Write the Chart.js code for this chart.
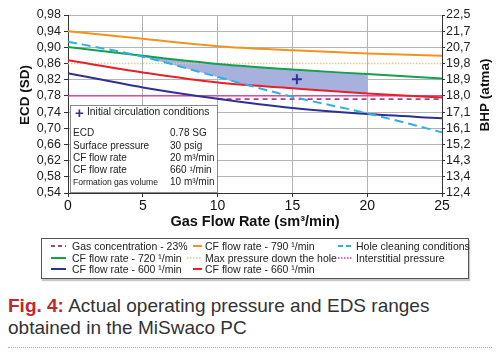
<!DOCTYPE html>
<html><head><meta charset="utf-8">
<script src="https://cdn.jsdelivr.net/npm/chart.js@4.4.1/dist/chart.umd.min.js"></script>
<style>
html,body{margin:0;padding:0;background:#fff;width:500px;height:356px;overflow:hidden;font-family:'Liberation Sans',Arial,sans-serif;}
#wrap{position:absolute;left:0;top:0;width:500px;height:234px;}
#info{position:absolute;left:70px;top:105px;width:146px;height:86px;background:#fff;border:1px solid #8a8a8a;font-size:10px;color:#222;}
#info div{position:absolute;line-height:12px;white-space:nowrap;}
#legend{position:absolute;left:41px;top:238px;width:426px;height:39px;border:1px solid #555;box-shadow:1px 2px 1px #c8c8c8;background:#fff;}
.li{position:absolute;font-size:10.5px;line-height:12px;color:#222;white-space:nowrap;}
#cap{position:absolute;left:8px;top:295px;font-size:19px;line-height:22px;color:#333;white-space:nowrap;}
#cap b{color:#c1272d;}
#rule{position:absolute;left:8px;top:347px;width:484px;border-top:1px dotted #e09a9a;}
</style></head><body>
<div id="wrap"><canvas id="c" width="500" height="234"></canvas></div>
<div id="info"></div>
<div id="legend"></div>
<div id="cap"><b>Fig. 4:</b> Actual operating pressure and EDS ranges<br>obtained in the MiSwaco PC</div>
<div id="rule"></div>
<script>
// ---- data ----
const gasFlow = [0, 5, 10, 15, 20, 25];
const cf790 = [0.940, 0.921, 0.903, 0.893, 0.885, 0.879];
const cf720 = [0.901, 0.879, 0.859, 0.845, 0.834, 0.823];
const cf660 = [0.868, 0.838, 0.813, 0.799, 0.786, 0.776];
const cf600 = [0.836, 0.801, 0.773, 0.750, 0.735, 0.725];
const holeCleaning = [0.914, 0.877, 0.827, 0.778, 0.737, 0.690];
const gasConcX = [10, 25];
const gasConc = [0.772, 0.772];
const interstitialX = [0, 25];
const interstitial = [0.78, 0.78];
const maxPressureX = [0, 25];
const maxPressure = [0.86, 0.86];
const shadeX = [4.6, 5, 7.5, 10, 11.8, 15, 17.5, 20];
const shadeTop = [0.881, 0.879, 0.869, 0.859, 0.855, 0.845, 0.839, 0.834];
const shadeBottom = [0.881, 0.877, 0.852, 0.827, 0.808, 0.799, 0.792, 0.786];
const initialPoint = [15.3, 0.821];
const ecdTicks = [0.54, 0.58, 0.62, 0.66, 0.70, 0.74, 0.78, 0.82, 0.86, 0.90, 0.94, 0.98];
const bhpLabels = ['12,4', '13,4', '14,3', '15,2', '16,1', '17,1', '18,0', '18,9', '19,8', '20,7', '21,7', '22,5'];
const xTicks = [0, 5, 10, 15, 20, 25];
const infoRows = [
  ['ECD', '0.78 SG'],
  ['Surface pressure', '30 psig'],
  ['CF flow rate', '20 m³/min'],
  ['CF flow rate', '660 ¹/min'],
  ['Formation gas volume', '10 m³/min']
];
const legendLabels = [
  'Gas concentration - 23%', 'CF flow rate - 790 ¹/min', 'Hole cleaning conditions',
  'CF flow rate - 720 ¹/min', 'Max pressure down the hole', 'Interstitial pressure',
  'CF flow rate - 600 ¹/min', 'CF flow rate - 660 ¹/min'
];

// ---- styles ----
const C = {
  orange: '#f5921e', green: '#14a04c', red: '#e8202a', navy: '#2e3192',
  cyan: '#2fb0e2', magenta: '#e0309a', purple: '#9b4a86', beige: '#e6c49a', shade: '#a8b0de'
};
const legendStyles = [
  {c: C.purple, d: '4,3', w: 1.8}, {c: C.orange, d: '', w: 2}, {c: C.cyan, d: '5,3', w: 2},
  {c: C.green, d: '', w: 2}, {c: C.beige, d: '1.5,1.5', w: 1.5}, {c: C.magenta, d: '1.5,1.5', w: 1.5},
  {c: C.navy, d: '', w: 2}, {c: C.red, d: '', w: 2}
];
const fam = "'Liberation Sans', Arial, sans-serif";
const pts = (xs, ys) => xs.map((x, i) => ({x: x, y: ys[i]}));
const lineDs = (label, xs, ys, color, extra) => Object.assign({
  label: label, data: pts(xs, ys), borderColor: color, borderWidth: 2, pointRadius: 0,
  fill: false, cubicInterpolationMode: 'monotone', order: 1
}, extra || {});

const vTitles = {
  id: 'vTitles',
  afterDraw(chart) {
    const ctx = chart.ctx;
    [['ECD (SD)', 25], ['BHP (atma)', 485]].forEach(([txt, x]) => {
      ctx.save();
      ctx.font = "bold 13.5px " + fam;
      ctx.fillStyle = '#111';
      ctx.textAlign = 'center';
      ctx.textBaseline = 'middle';
      ctx.translate(x, 95); ctx.rotate(-Math.PI / 2); ctx.fillText(txt, 0, 0);
      ctx.restore();
    });
  }
};

const gridCol = (ctx) => (ctx.tick && Math.abs(ctx.tick.value - 0.86) < 1e-6) ? 'rgba(0,0,0,0)' : '#b4b4b4';

new Chart(document.getElementById('c'), {
  type: 'line',
  data: {
    datasets: [
      {label: 'shadeTop', data: pts(shadeX, shadeTop), borderWidth: 0, borderColor: 'rgba(0,0,0,0)',
       backgroundColor: C.shade, fill: '+1', pointRadius: 0, order: 10, cubicInterpolationMode: 'monotone'},
      {label: 'shadeBottom', data: pts(shadeX, shadeBottom), borderWidth: 0, borderColor: 'rgba(0,0,0,0)',
       fill: false, pointRadius: 0, order: 11, cubicInterpolationMode: 'monotone'},
      lineDs('Max pressure down the hole', maxPressureX, maxPressure, C.beige, {borderWidth: 1.5, borderDash: [1.5, 1.5], order: 5}),
      lineDs('Interstitial pressure', interstitialX, interstitial, C.magenta, {borderWidth: 1.4, order: 4}),
      lineDs('Gas concentration - 23%', gasConcX, gasConc, C.purple, {borderWidth: 1.8, borderDash: [5, 4], order: 3}),
      lineDs('CF flow rate - 790 ¹/min', gasFlow, cf790, C.orange),
      lineDs('CF flow rate - 720 ¹/min', gasFlow, cf720, C.green),
      lineDs('CF flow rate - 660 ¹/min', gasFlow, cf660, C.red),
      lineDs('CF flow rate - 600 ¹/min', gasFlow, cf600, C.navy),
      lineDs('Hole cleaning conditions', gasFlow, holeCleaning, C.cyan, {borderDash: [9, 5], order: 0}),
      {label: 'Initial circulation conditions', data: [{x: initialPoint[0], y: initialPoint[1]}], showLine: false,
       pointStyle: 'cross', pointRadius: 5, borderColor: C.navy, borderWidth: 2, order: 0}
    ]
  },
  options: {
    responsive: false, animation: false, devicePixelRatio: 1,
    layout: {padding: {top: 15, left: 0, right: 0, bottom: 0}},
    plugins: {legend: {display: false}, tooltip: {enabled: false}},
    scales: {
      x: {
        type: 'linear', min: 0, max: 25,
        afterBuildTicks: s => { s.ticks = xTicks.map(v => ({value: v})); },
        afterFit: s => { s.height = 41; },
        ticks: {font: {family: fam, size: 14}, color: '#111', padding: 1, maxRotation: 0, autoSkip: false},
        grid: {color: '#b4b4b4', tickColor: '#333', tickLength: 4},
        border: {color: '#333'},
        title: {display: true, text: 'Gas Flow Rate (sm³/min)', color: '#111',
                font: {family: fam, weight: 'bold', size: 14.5},
                padding: {top: 0, bottom: 3}}
      },
      y: {
        position: 'left', min: 0.54, max: 0.98,
        afterBuildTicks: s => { s.ticks = ecdTicks.map(v => ({value: v})); },
        afterFit: s => { s.width = 68; },
        ticks: {callback: v => v.toFixed(2).replace('.', ','), font: {family: fam, size: 12.5}, color: '#222', padding: 3, autoSkip: false},
        grid: {color: gridCol, tickColor: '#333', tickLength: 4},
        border: {color: '#333'}
      },
      y2: {
        position: 'right', min: 0.54, max: 0.98,
        afterBuildTicks: s => { s.ticks = ecdTicks.map(v => ({value: v})); },
        afterFit: s => { s.width = 58; },
        ticks: {callback: (v, i) => bhpLabels[i], font: {family: fam, size: 12.5}, color: '#222', padding: 1, autoSkip: false},
        grid: {drawOnChartArea: false, tickColor: '#333', tickLength: 3},
        border: {color: '#333'}
      }
    }
  },
  plugins: [vTitles]
});

// ---- info box ----
(function () {
  const box = document.getElementById('info');
  const h = document.createElement('div');
  h.style.top = '0px'; h.style.left = '4px';
  h.innerHTML = '<span style="color:' + C.navy + ';font-size:15px;font-weight:bold;position:relative;top:1px">+</span>';
  box.appendChild(h);
  const t = document.createElement('div');
  t.style.top = '0px'; t.style.left = '16px'; t.style.fontSize = '10.3px';
  t.textContent = 'Initial circulation conditions';
  box.appendChild(t);
  const tops = [21, 34, 46, 58, 70];
  infoRows.forEach((r, i) => {
    const a = document.createElement('div');
    a.style.top = tops[i] + 'px'; a.style.left = '2px'; a.textContent = r[0];
    if (i === infoRows.length - 1) a.style.fontSize = '8.6px';
    const b = document.createElement('div');
    b.style.top = tops[i] + 'px'; b.style.left = '99px'; b.textContent = r[1];
    box.appendChild(a); box.appendChild(b);
  });
})();

// ---- bottom legend ----
(function () {
  const cols = [[51, 15, 72], [193, 9, 205], [338, 14, 356]];
  const rows = [246, 257.5, 269];
  legendLabels.forEach((lab, i) => {
    const col = i % 3, row = Math.floor(i / 3);
    const st = legendStyles[i];
    let x0 = cols[col][0], len = cols[col][1];
    if (i === 4) { x0 = 187; len = 15; }
    const svg = document.createElementNS('http://www.w3.org/2000/svg', 'svg');
    svg.setAttribute('width', String(len + 1)); svg.setAttribute('height', '6');
    svg.style.position = 'absolute';
    svg.style.left = x0 + 'px'; svg.style.top = (rows[row] - 3) + 'px';
    const ln = document.createElementNS('http://www.w3.org/2000/svg', 'line');
    ln.setAttribute('x1', '0'); ln.setAttribute('y1', '3'); ln.setAttribute('x2', String(len)); ln.setAttribute('y2', '3');
    ln.setAttribute('stroke', st.c); ln.setAttribute('stroke-width', st.w);
    if (st.d) ln.setAttribute('stroke-dasharray', st.d);
    svg.appendChild(ln);
    document.body.appendChild(svg);
    const d = document.createElement('div');
    d.className = 'li';
    d.style.left = cols[col][2] + 'px'; d.style.top = (rows[row] - 6) + 'px';
    d.textContent = lab;
    document.body.appendChild(d);
  });
})();
</script>
</body></html>
